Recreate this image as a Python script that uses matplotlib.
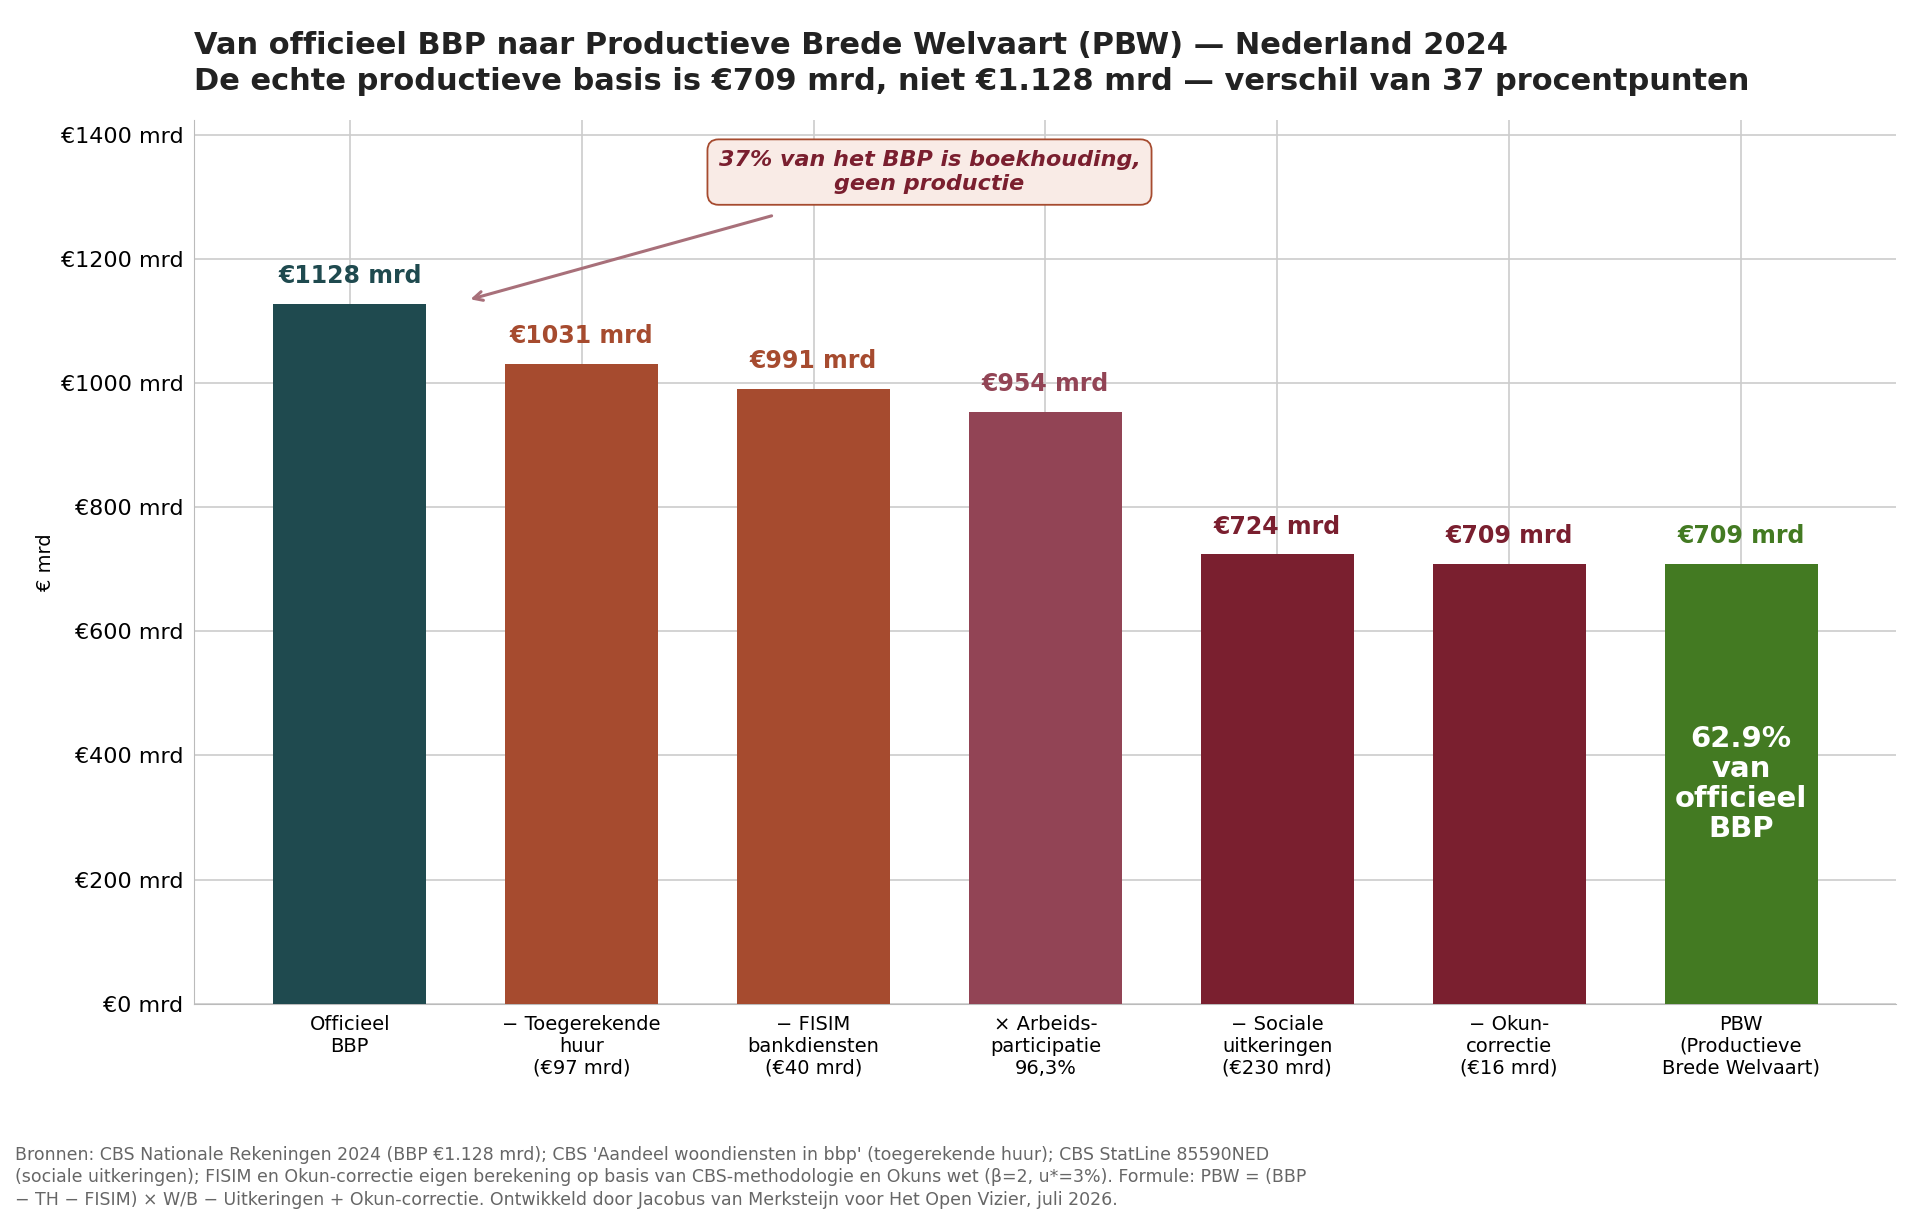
import matplotlib.pyplot as plt

categories = ["Officieel\nBBP", "− Toegerekende\nhuur\n(€97 mrd)", "− FISIM\nbankdiensten\n(€40 mrd)",
              "× Arbeids-\nparticipatie\n96,3%", "− Sociale\nuitkeringen\n(€230 mrd)",
              "− Okun-\ncorrectie\n(€16 mrd)", "PBW\n(Productieve\nBrede Welvaart)"]
values = [1128, 1031, 991, 954, 724, 709, 709]
colors = ["#1f4a4f", "#a64b2f", "#a64b2f", "#924455", "#7a1f2f", "#7a1f2f", "#437a22"]

fig = plt.figure(figsize=(19.06, 12.24), dpi=100)
ax = fig.add_axes([0.102, 0.18, 0.893, 0.722])

x = range(len(values))
ax.bar(x, values, width=0.66, color=colors, zorder=3)
for i, v in enumerate(values):
    ax.text(i, v + 25, f"€{v} mrd", ha="center", va="bottom", fontsize=17,
            fontweight="bold", color=colors[i], zorder=4)

ax.text(6, 354, "62.9%\nvan\nofficieel\nBBP", ha="center", va="center", fontsize=21,
        fontweight="bold", color="white", zorder=4, linespacing=1.1)

ax.annotate("37% van het BBP is boekhouding,\ngeen productie", xy=(0.52, 1135), xytext=(2.5, 1340),
            ha="center", va="center", fontsize=16, fontweight="bold", style="italic", color="#7a1f2f",
            bbox=dict(boxstyle="round,pad=0.5", fc="#f9ebe6", ec="#a64b2f", lw=1.3),
            arrowprops=dict(arrowstyle="->", color="#a8707a", lw=2.2, shrinkA=28, shrinkB=0),
            zorder=5)

ax.set_xlim(-0.67, 6.67)
ax.set_ylim(0, 1424)
ax.set_yticks(range(0, 1401, 200))
ax.set_yticklabels([f"€{t} mrd" for t in range(0, 1401, 200)], fontsize=16)
ax.set_xticks(list(x))
ax.set_xticklabels(categories, fontsize=14)
ax.set_ylabel("€ mrd", fontsize=14)
ax.grid(True, color="#cccccc", lw=1.2, zorder=0)
ax.tick_params(length=0, pad=8)
for s in ["top", "right"]:
    ax.spines[s].set_visible(False)
for s in ["left", "bottom"]:
    ax.spines[s].set_color("#bbbbbb")

fig.text(0.102, 0.975, "Van officieel BBP naar Productieve Brede Welvaart (PBW) — Nederland 2024\n"
         "De echte productieve basis is €709 mrd, niet €1.128 mrd — verschil van 37 procentpunten",
         ha="left", va="top", fontsize=22, fontweight="bold", color="#222222", linespacing=1.3)

fig.text(0.008, 0.012, "Bronnen: CBS Nationale Rekeningen 2024 (BBP €1.128 mrd); CBS 'Aandeel woondiensten in bbp' (toegerekende huur); CBS StatLine 85590NED\n"
         "(sociale uitkeringen); FISIM en Okun-correctie eigen berekening op basis van CBS-methodologie en Okuns wet (β=2, u*=3%). Formule: PBW = (BBP\n"
         "− TH − FISIM) × W/B − Uitkeringen + Okun-correctie. Ontwikkeld door Jacobus van Merksteijn voor Het Open Vizier, juli 2026.",
         ha="left", va="bottom", fontsize=12.5, color="#666666", linespacing=1.35)

fig.savefig("out.png", dpi=100)
